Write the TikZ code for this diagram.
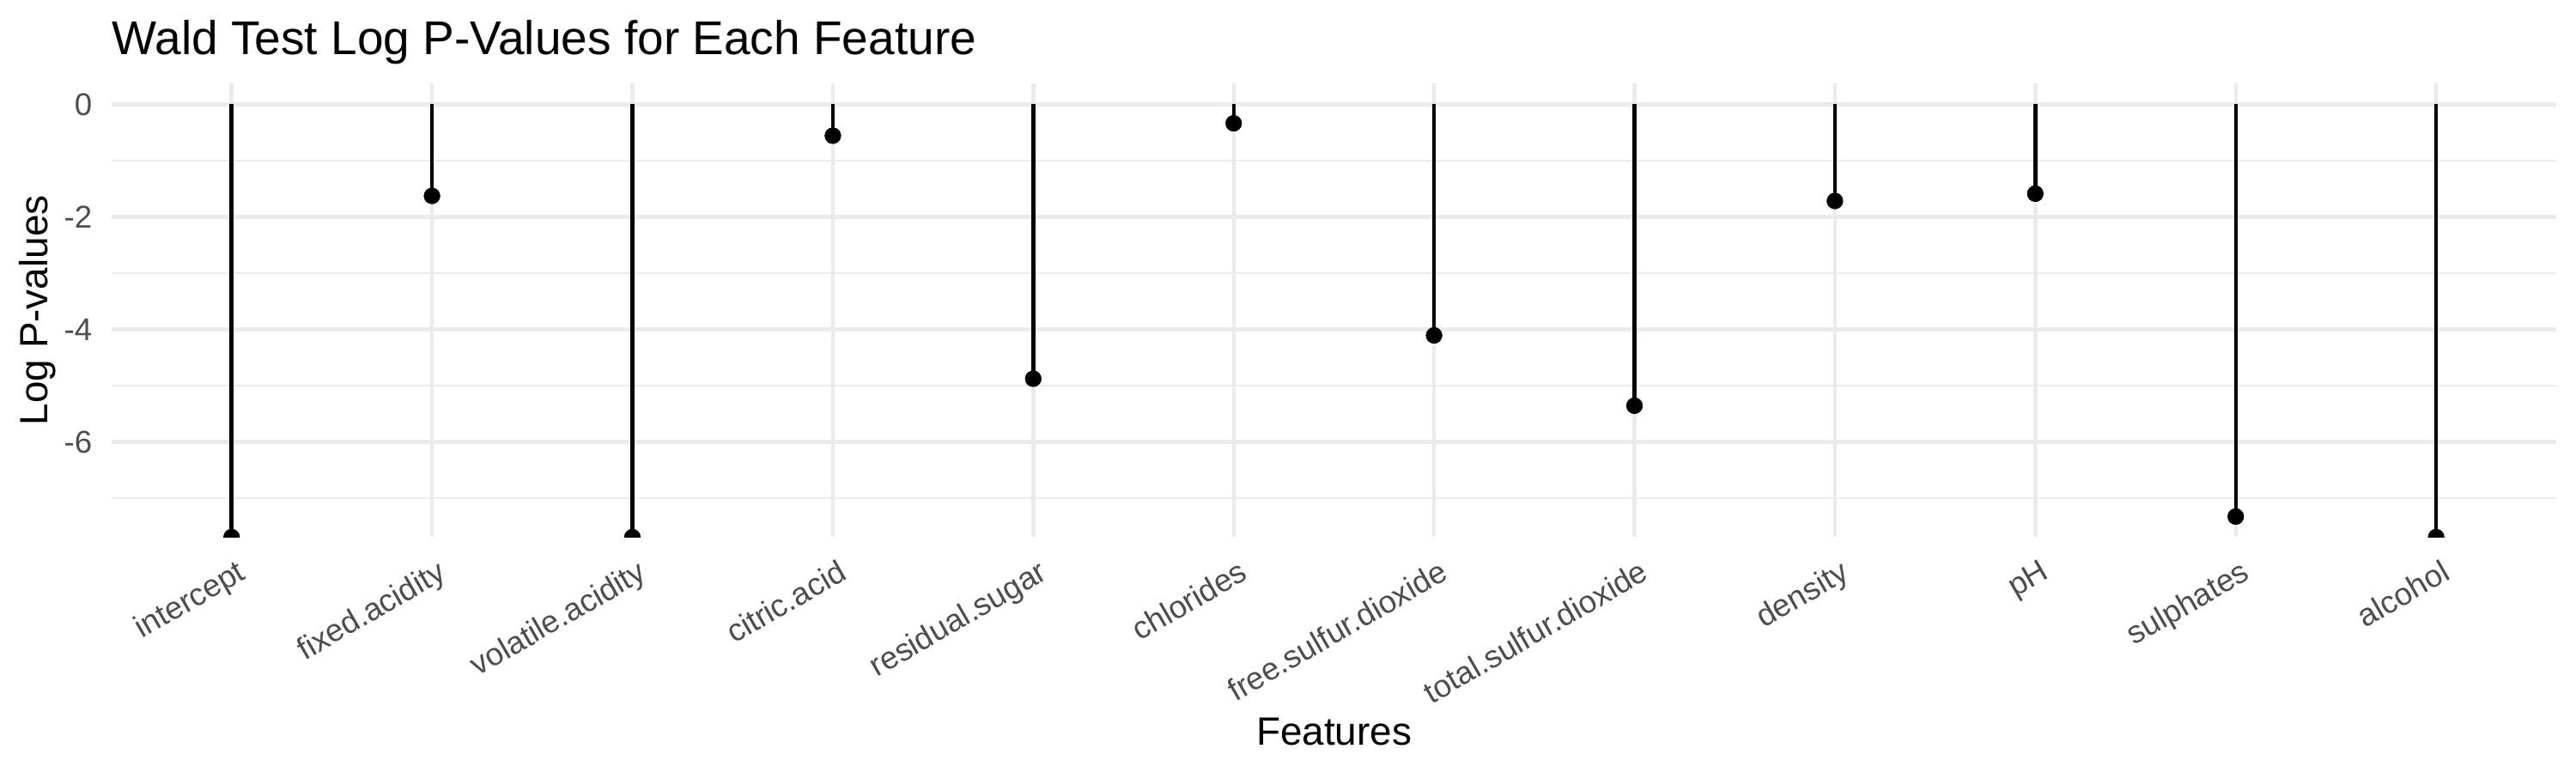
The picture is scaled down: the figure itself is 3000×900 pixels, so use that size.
\documentclass[tikz,border=0pt]{standalone}
\usepackage{fontspec}
\setmainfont{Liberation Sans}
\definecolor{gridc}{HTML}{EBEBEB}
\definecolor{axtext}{HTML}{4D4D4D}
\begin{document}
\begin{tikzpicture}[x=0.01cm,y=-0.01cm,
  major/.style={draw=gridc, line width=1.26pt},
  minor/.style={draw=gridc, line width=0.63pt},
  stem/.style={draw=black, line width=1.26pt, line cap=butt},
  dot/.style={circle, fill=black, inner sep=0pt, minimum size=0.19cm},
  xlab/.style={rotate=30, anchor=north east, inner sep=0pt, text=axtext, font=\fontsize{10.43pt}{12pt}\selectfont},
  ylab/.style={anchor=base east, inner sep=0pt, text=axtext, font=\fontsize{10.43pt}{12pt}\selectfont},
  axtitle/.style={inner sep=0pt, text=black, font=\fontsize{13.04pt}{15pt}\selectfont},
  ptitle/.style={anchor=base west, inner sep=0pt, text=black, font=\fontsize{15.65pt}{18pt}\selectfont}
]
\useasboundingbox (0,0) rectangle (3000,900);
\fill[white] (0,0) rectangle (3000,900);
% grid
\foreach \v in {-1,-3,-5,-7}
  \draw[minor] (130,{121.3-65.5*\v}) -- (2977,{121.3-65.5*\v});
\foreach \v in {0,-2,-4,-6}
  \draw[major] (130,{121.3-65.5*\v}) -- (2977,{121.3-65.5*\v});
\foreach \i in {0,...,11}
  \draw[major] ({269.7+233.4*\i},97.3) -- ({269.7+233.4*\i},625.4);
% y tick labels
\node[ylab] (t0) at (108,{121.3+13.4}) {0};
\node[ylab] (t2) at (108,{121.3+131+13.4}) {-2};
\node[ylab] (t4) at (108,{121.3+262+13.4}) {-4};
\node[ylab] (t6) at (108,{121.3+393+13.4}) {-6};
% data
\begin{scope}
\clip (130,97.3) rectangle (2977,625.4);
\foreach \i/\v [count=\n] in {0/-7.6965,1/-1.63,2/-7.6965,3/-0.56,4/-4.88,5/-0.34,6/-4.11,7/-5.36,8/-1.72,9/-1.59,10/-7.33,11/-7.6965}{
  \coordinate (s\n) at ({269.7+233.4*\i},121.3);
  \node[dot] (p\n) at ({269.7+233.4*\i},{121.3-65.5*\v}) {};
  \draw[stem] (s\n) -- (p\n.center);
  \fill (p\n.center) circle[radius=0.095cm];
}
\end{scope}
% x labels
\foreach \i/\lab [count=\n] in {0/intercept,1/fixed.acidity,2/volatile.acidity,3/citric.acid,4/residual.sugar,5/chlorides,6/free.sulfur.dioxide,7/total.sulfur.dioxide,8/density,9/pH,10/sulphates,11/alcohol}
  \node[xlab] (xl\n) at ({269.7+233.4*\i+5},649.5) {\lab};
% titles
\node[ptitle] (title) at (130,63) {Wald Test Log P-Values for Each Feature};
\node[axtitle, rotate=90, anchor=base] (ytitle) at (55,361.3) {Log P-values};
\node[axtitle, anchor=base] (xtitle) at (1553.5,867) {Features};
\end{tikzpicture}
\end{document}
